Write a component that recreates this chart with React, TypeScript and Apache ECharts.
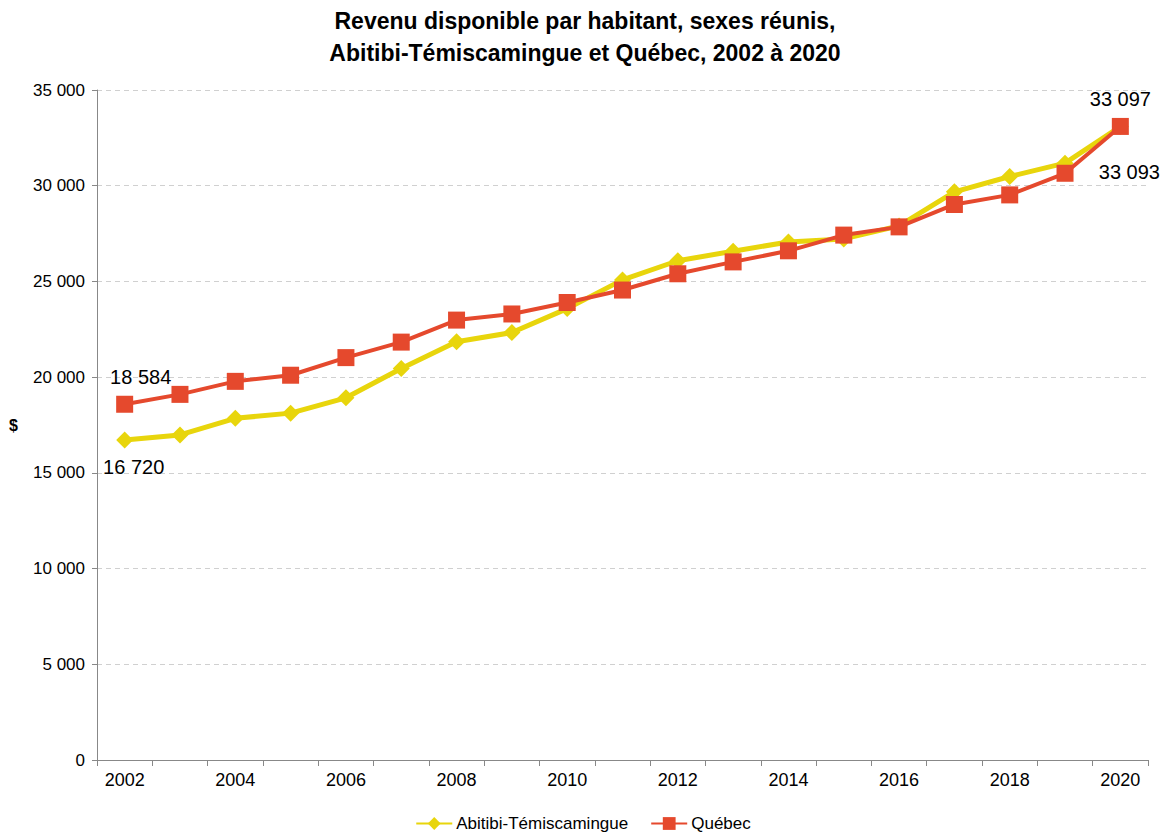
import React, { useEffect, useRef } from "react";
import * as echarts from "echarts";

const years = ["2002","2003","2004","2005","2006","2007","2008","2009","2010","2011","2012","2013","2014","2015","2016","2017","2018","2019","2020"];
const abitibi = [16720,16980,17850,18120,18920,20450,21850,22330,23580,25080,26080,26580,27060,27220,27900,29680,30480,31180,33093];
const quebec = [18584,19100,19780,20100,21020,21830,22980,23300,23900,24550,25400,26020,26600,27420,27850,29020,29520,30650,33097];
const yTicks = { min: 0, max: 35000, interval: 5000 };

const fmt = (v: number) => String(v).replace(/\B(?=(\d{3})+(?!\d))/g, " ");
const FONT = "'Liberation Sans', Arial, sans-serif";
const YELLOW = "#E8D50C";
const RED = "#E5492D";

export default function App() {
  const ref = useRef<HTMLDivElement>(null);
  useEffect(() => {
    if (!ref.current) return;
    const chart = echarts.init(ref.current, undefined, { renderer: "svg" });
    const last = years.length - 1;
    const lbl = (extra: any) => ({
      show: true,
      color: "#000",
      fontSize: 20,
      fontFamily: FONT,
      formatter: (p: any) => fmt(p.value),
      ...extra,
    });
    chart.setOption({
      animation: false,
      backgroundColor: "#fff",
      title: {
        text: "Revenu disponible par habitant, sexes réunis,\nAbitibi-Témiscamingue et Québec, 2002 à 2020",
        left: 580,
        textAlign: "center",
        top: 0,
        textStyle: {
          fontFamily: FONT,
          fontWeight: "bold",
          fontSize: 23,
          lineHeight: 32,
          color: "#000",
        },
      },
      legend: {
        top: 810,
        left: "center",
        itemWidth: 36,
        itemHeight: 16,
        itemGap: 22,
        textStyle: { fontFamily: FONT, fontSize: 17, color: "#000", padding: [0, 0, 0, -1] },
        data: ["Abitibi-Témiscamingue", "Québec"],
      },
      grid: { left: 97, right: 18, top: 90, bottom: 73 },
      xAxis: {
        type: "category",
        data: years,
        boundaryGap: true,
        axisLine: { lineStyle: { color: "#888" } },
        axisTick: { show: true, interval: 0, length: 6, lineStyle: { color: "#888" } },
        axisLabel: { interval: 1, color: "#000", fontSize: 18, fontFamily: FONT, margin: 11 },
      },
      yAxis: {
        type: "value",
        min: yTicks.min,
        max: yTicks.max,
        interval: yTicks.interval,
        name: "$",
        nameLocation: "middle",
        nameRotate: 0,
        nameGap: 79,
        nameTextStyle: { fontWeight: "bold", fontSize: 16, fontFamily: FONT, color: "#000" },
        axisLine: { show: true, lineStyle: { color: "#888" } },
        axisTick: { show: true, length: 5, lineStyle: { color: "#888" } },
        axisLabel: { color: "#000", fontSize: 17, fontFamily: FONT, formatter: (v: number) => fmt(v), margin: 12 },
        splitLine: { lineStyle: { color: "#d0d0d0", type: [5, 4] } },
      },
      series: [
        {
          name: "Abitibi-Témiscamingue",
          type: "line",
          symbol: "diamond",
          symbolSize: 17,
          lineStyle: { color: YELLOW, width: 5 },
          itemStyle: { color: YELLOW },
          z: 2,
          data: abitibi.map((v, i) =>
            i === 0
              ? { value: v, label: lbl({ position: "bottom", distance: 9, offset: [9, 0] }) }
              : i === last
              ? { value: v, label: lbl({ position: "bottom", distance: 27, offset: [9, 0] }) }
              : v
          ),
        },
        {
          name: "Québec",
          type: "line",
          symbol: "rect",
          symbolSize: 17,
          lineStyle: { color: RED, width: 4 },
          itemStyle: { color: RED },
          z: 3,
          data: quebec.map((v, i) =>
            i === 0
              ? { value: v, label: lbl({ position: "top", distance: 9, offset: [16, 0] }) }
              : i === last
              ? { value: v, label: lbl({ position: "top", distance: 9 }) }
              : v
          ),
        },
      ],
    });
    return () => chart.dispose();
  }, []);
  return (
    <div
      ref={ref}
      style={{ position: "fixed", left: 0, top: 0, width: 1166, height: 833 }}
    />
  );
}
